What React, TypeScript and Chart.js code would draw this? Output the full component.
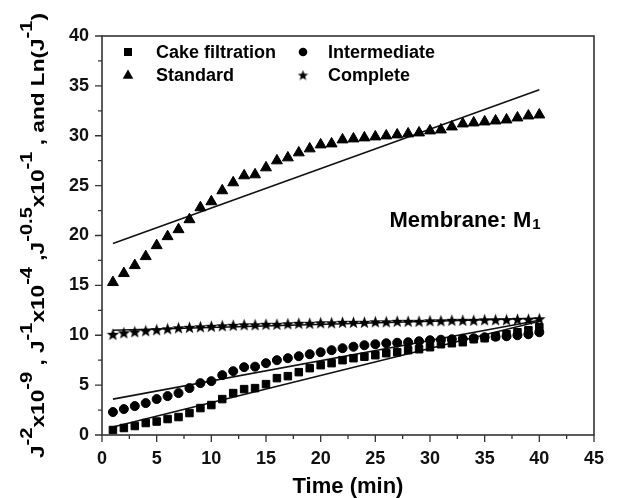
import React, { useEffect, useRef } from 'react';
import { Chart, registerables } from 'chart.js';

Chart.register(...registerables);

// ---------- data ----------
const timeMin = [
  1, 2, 3, 4, 5, 6, 7, 8, 9, 10, 11, 12, 13, 14, 15, 16, 17, 18, 19, 20,
  21, 22, 23, 24, 25, 26, 27, 28, 29, 30, 31, 32, 33, 34, 35, 36, 37, 38, 39, 40,
];
const cakeFiltration = [
  0.5, 0.7, 0.9, 1.2, 1.35, 1.6, 1.8, 2.2, 2.7, 3.0, 3.6, 4.2, 4.6, 4.7, 5.1, 5.7, 5.9, 6.3, 6.7, 7.0,
  7.2, 7.5, 7.7, 7.85, 8.0, 8.2, 8.3, 8.5, 8.6, 8.8, 9.1, 9.2, 9.3, 9.6, 9.7, 9.9, 10.1, 10.3, 10.5, 10.8,
];
const intermediate = [
  2.3, 2.6, 2.9, 3.2, 3.6, 3.9, 4.2, 4.7, 5.2, 5.4, 6.0, 6.4, 6.8, 6.85, 7.2, 7.5, 7.7, 7.9, 8.1, 8.3,
  8.5, 8.7, 8.85, 9.0, 9.1, 9.2, 9.25, 9.3, 9.4, 9.5, 9.55, 9.6, 9.65, 9.7, 9.8, 9.85, 9.9, 10.0, 10.1, 10.3,
];
const standard = [
  15.3, 16.2, 17.0, 17.9, 19.0, 19.9, 20.6, 21.6, 22.8, 23.4, 24.5, 25.3, 26.0, 26.1, 26.8, 27.5, 27.8, 28.3, 28.7, 29.1,
  29.2, 29.6, 29.7, 29.8, 29.9, 30.0, 30.1, 30.2, 30.3, 30.5, 30.6, 30.9, 31.2, 31.3, 31.4, 31.5, 31.6, 31.8, 32.0, 32.1,
];
const complete = [
  10.1, 10.25, 10.35, 10.45, 10.55, 10.65, 10.75, 10.8, 10.85, 10.9, 10.95, 11.0, 11.05, 11.05, 11.1, 11.1, 11.15, 11.2, 11.2, 11.25,
  11.25, 11.3, 11.3, 11.3, 11.35, 11.35, 11.4, 11.4, 11.4, 11.45, 11.45, 11.5, 11.5, 11.5, 11.55, 11.55, 11.55, 11.6, 11.6, 11.65,
];
// linear fit lines (start, end)
const fitX = [1, 40];
const cakeFit = [0.8, 11.4];
const intermediateFit = [3.6, 11.5];
const standardFit = [19.2, 34.6];
const completeFit = [10.5, 11.7];

const seriesNames = ['Cake filtration', 'Intermediate', 'Standard', 'Complete'];
const xMin = 0, xMax = 45, xMajor = 5, xMinor = 2.5;
const yMin = 0, yMax = 40, yMajor = 5, yMinor = 2.5;
const xTitle = 'Time (min)';
// y title segments: [text, isSuperscript]
const yTitleParts: [string, boolean][] = [
  ['J', false], ['-2', true], ['x10', false], ['-9', true], [' , J', false], ['-1', true],
  ['x10', false], ['-4', true], [' ,J', false], ['-0.5', true], ['x10', false], ['-1', true],
  [' , and Ln(J', false], ['-1', true], [')', false],
];
const membraneText = 'Membrane: M';
const membraneSub = '1';
const membraneAt = { x: 26.3, y: 21.5 };

const FONT = '"Liberation Sans", Arial, Helvetica, sans-serif';

function makeStar(size: number): HTMLCanvasElement {
  const c = document.createElement('canvas');
  c.width = size; c.height = size;
  const g = c.getContext('2d')!;
  const cx = size / 2, cy = size / 2 + 0.6, R = size / 2, r = R * 0.42;
  g.beginPath();
  for (let i = 0; i < 10; i++) {
    const ang = -Math.PI / 2 + (i * Math.PI) / 5;
    const rad = i % 2 === 0 ? R : r;
    const px = cx + Math.cos(ang) * rad, py = cy + Math.sin(ang) * rad;
    if (i === 0) g.moveTo(px, py); else g.lineTo(px, py);
  }
  g.closePath();
  g.fillStyle = '#000';
  g.fill();
  return c;
}

const pts = (ys: number[]) => ys.map((v, i) => ({ x: timeMin[i], y: v }));
const fit = (ys: number[]) => ys.map((v, i) => ({ x: fitX[i], y: v }));

export default function App() {
  const ref = useRef<HTMLCanvasElement>(null);

  useEffect(() => {
    if (!ref.current) return;
    const star = makeStar(13);
    const starSmall = makeStar(11);

    const decoPlugin = {
      id: 'deco',
      afterDraw(chart: any) {
        const { ctx, chartArea: a, scales } = chart;
        const xs = scales.x, ys = scales.y;
        ctx.save();
        // frame
        ctx.strokeStyle = '#333';
        ctx.lineWidth = 1.6;
        ctx.strokeRect(a.left, a.top, a.right - a.left, a.bottom - a.top);
        ctx.lineWidth = 1.3;
        ctx.beginPath();
        for (let v = xMin; v <= xMax + 1e-9; v += xMinor) {
          const px = xs.getPixelForValue(v);
          const major = Math.abs(v / xMajor - Math.round(v / xMajor)) < 1e-6;
          ctx.moveTo(px, a.bottom);
          ctx.lineTo(px, a.bottom + (major ? 7 : 4));
        }
        for (let v = yMin; v <= yMax + 1e-9; v += yMinor) {
          const py = ys.getPixelForValue(v);
          const major = Math.abs(v / yMajor - Math.round(v / yMajor)) < 1e-6;
          ctx.moveTo(a.left, py);
          ctx.lineTo(a.left - (major ? 7 : 4), py);
        }
        ctx.stroke();

        // x title
        ctx.fillStyle = '#000';
        ctx.font = `bold 22px ${FONT}`;
        ctx.textAlign = 'center';
        ctx.textBaseline = 'alphabetic';
        ctx.fillText(xTitle, (a.left + a.right) / 2, 493);

        // y title (rotated, with superscripts)
        const mainFont = `bold 18px ${FONT}`;
        const supFont = `bold 16px ${FONT}`;
        let natural = 0;
        const widths: number[] = [];
        for (const [t, sup] of yTitleParts) {
          ctx.font = sup ? supFont : mainFont;
          const w = ctx.measureText(t).width;
          widths.push(w);
          natural += w;
        }
        const target = 445;
        const stretch = target / natural;
        ctx.save();
        ctx.translate(44, (a.top + a.bottom) / 2);
        ctx.rotate(-Math.PI / 2);
        ctx.scale(stretch, 1);
        ctx.textAlign = 'left';
        let cur = -natural / 2;
        yTitleParts.forEach(([t, sup], i) => {
          ctx.font = sup ? supFont : mainFont;
          ctx.fillText(t, cur, sup ? -12 : 0);
          cur += widths[i];
        });
        ctx.restore();

        // membrane annotation
        const mx = xs.getPixelForValue(membraneAt.x);
        const my = ys.getPixelForValue(membraneAt.y);
        ctx.font = `bold 22px ${FONT}`;
        ctx.textAlign = 'left';
        ctx.textBaseline = 'middle';
        ctx.fillText(membraneText, mx, my);
        const mw = ctx.measureText(membraneText).width;
        ctx.font = `bold 15px ${FONT}`;
        ctx.fillText(membraneSub, mx + mw + 1, my + 4);

        // legend
        ctx.font = `bold 18px ${FONT}`;
        ctx.textBaseline = 'middle';
        const rows = [a.top + 16, a.top + 39];
        const cols = [a.left + 26, a.left + 201];
        const textOff = [28, 25];
        const items = [
          { name: seriesNames[0], col: 0, row: 0, m: 'rect' },
          { name: seriesNames[1], col: 1, row: 0, m: 'circle' },
          { name: seriesNames[2], col: 0, row: 1, m: 'triangle' },
          { name: seriesNames[3], col: 1, row: 1, m: 'star' },
        ];
        for (const it of items) {
          const cx = cols[it.col], cy = rows[it.row];
          ctx.fillStyle = '#000';
          ctx.beginPath();
          if (it.m === 'rect') ctx.rect(cx - 4, cy - 4, 8, 8);
          else if (it.m === 'circle') ctx.arc(cx, cy, 4.3, 0, Math.PI * 2);
          else if (it.m === 'triangle') {
            ctx.moveTo(cx, cy - 5.5);
            ctx.lineTo(cx + 5.3, cy + 3.8);
            ctx.lineTo(cx - 5.3, cy + 3.8);
            ctx.closePath();
          }
          if (it.m === 'star') ctx.drawImage(starSmall, cx - 5.5, cy - 5.5);
          else ctx.fill();
          ctx.fillText(it.name, cx + textOff[it.col], cy + 1);
        }
        ctx.restore();
      },
    };

    const lineDs = (ys: number[]) => ({
      data: fit(ys),
      showLine: true,
      borderColor: '#111',
      borderWidth: 1.6,
      pointRadius: 0,
      fill: false,
    });
    const ptDs = (ys: number[], style: any, r: number) => ({
      data: pts(ys),
      showLine: false,
      pointStyle: style,
      pointRadius: r,
      backgroundColor: '#000',
      borderColor: '#000',
      borderWidth: 1,
    });

    const tickFont = { family: FONT, size: 18, weight: 'bold' as const };
    const chart = new Chart(ref.current, {
      type: 'scatter',
      data: {
        datasets: [
          ptDs(cakeFiltration, 'rect', 5.3),
          ptDs(intermediate, 'circle', 4.5),
          ptDs(standard, 'triangle', 6.3),
          ptDs(complete, star, 6.5),
          lineDs(cakeFit),
          lineDs(intermediateFit),
          lineDs(standardFit),
          lineDs(completeFit),
        ] as any,
      },
      options: {
        animation: false,
        responsive: false,
        devicePixelRatio: 1,
        layout: { padding: { top: 36, right: 14, left: 0, bottom: 0 } },
        plugins: { legend: { display: false }, tooltip: { enabled: false } },
        scales: {
          x: {
            type: 'linear',
            min: xMin,
            max: xMax,
            grid: { display: false, drawTicks: false },
            border: { display: false },
            ticks: { stepSize: xMajor, autoSkip: false, maxRotation: 0, padding: 13, color: '#111', font: tickFont },
            afterFit: (s: any) => { s.height = 63; },
          },
          y: {
            type: 'linear',
            min: yMin,
            max: yMax,
            grid: { display: false, drawTicks: false },
            border: { display: false },
            ticks: { stepSize: yMajor, autoSkip: false, padding: 13, color: '#111', font: tickFont },
            afterFit: (s: any) => { s.width = 102; },
          },
        },
      },
      plugins: [decoPlugin],
    });
    return () => chart.destroy();
  }, []);

  return (
    <div style={{ position: 'absolute', left: 0, top: 0, width: 617, height: 498, background: '#fff' }}>
      <canvas ref={ref} width={617} height={498} style={{ display: 'block', width: 617, height: 498 }} />
    </div>
  );
}
